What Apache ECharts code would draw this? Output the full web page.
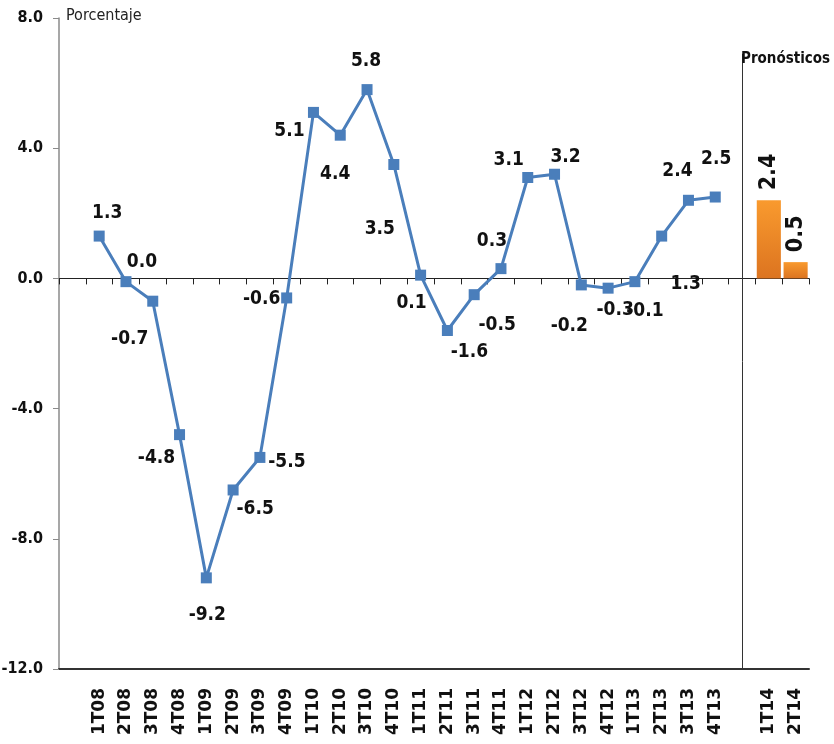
<!DOCTYPE html>
<html>
<head>
<meta charset="utf-8">
<script src="https://cdn.jsdelivr.net/npm/echarts@6/dist/echarts.min.js"></script>
<style>
html,body{margin:0;padding:0;background:#fff;}
#chart{width:834px;height:744px;}
</style>
</head>
<body>
<div id="chart"></div>
<script>
// ---- data ----
const lineCategories = ['1T08','2T08','3T08','4T08','1T09','2T09','3T09','4T09','1T10','2T10','3T10','4T10','1T11','2T11','3T11','4T11','1T12','2T12','3T12','4T12','1T13','2T13','3T13','4T13'];
const lineValues = [1.3,-0.1,-0.7,-4.8,-9.2,-6.5,-5.5,-0.6,5.1,4.4,5.8,3.5,0.1,-1.6,-0.5,0.3,3.1,3.2,-0.2,-0.3,-0.1,1.3,2.4,2.5];
const lineLabels = ['1.3','0.0','-0.7','-4.8','-9.2','-6.5','-5.5','-0.6','5.1','4.4','5.8','3.5','0.1','-1.6','-0.5','0.3','3.1','3.2','-0.2','-0.3','-0.1','1.3','2.4','2.5'];
const forecastCategories = ['1T14','2T14'];
const forecastValues = [2.4,0.5];
const yTicks = {min:-12, max:8, interval:4};

// label placement offsets (pixels, relative to marker centre)
const labelOffsets = [[8,-23],[16,-20],[-23,38],[-23,23],[1,37],[22,19],[27,5],[-25,1],[-24,19],[-5,39],[-1,-29],[-14,65],[-9,28],[22,22],[23,30],[-9,-28],[-19,-17],[11,-17],[-12,41],[7,22],[10,29],[24,48],[-11,-29],[1,-38]];

// ---- build ----
const categories = [''].concat(lineCategories, [''], forecastCategories);
const gapIndex = 1 + lineCategories.length;
const lineData = [null];
lineValues.forEach((v,i)=>{
  lineData.push({value:v, label:{offset:labelOffsets[i], formatter:lineLabels[i]}});
});
while(lineData.length < categories.length) lineData.push(null);
const barData = new Array(categories.length - forecastValues.length).fill(null).concat(forecastValues);

const numFont = '"DejaVu Sans Condensed",sans-serif';

const chart = echarts.init(document.getElementById('chart'));
chart.setOption({
  animation:false,
  backgroundColor:'#fff',
  title:[
    {text:'Porcentaje', left:66, top:8, padding:0, textStyle:{fontFamily:'"DejaVu Sans Condensed",sans-serif', fontWeight:'normal', fontSize:16, color:'#222'}},
    {text:'Pronósticos', left:741, top:52, padding:0, textStyle:{fontFamily:'"DejaVu Sans Condensed",sans-serif', fontWeight:'bold', fontSize:15, color:'#111'}}
  ],
  grid:{left:59, right:25, top:18, bottom:75, containLabel:false, outerBoundsMode:'none'},
  xAxis:[
    {type:'category', data:categories, boundaryGap:true,
     axisLine:{onZero:false, lineStyle:{color:'#333', width:2}},
     axisTick:{show:false},
     axisLabel:{rotate:90, interval:0, margin:19, fontFamily:'"DejaVu Sans",sans-serif', fontWeight:'bold', fontSize:17, color:'#111'}},
    {type:'category', data:categories, position:'bottom', boundaryGap:true,
     axisLine:{onZero:true, lineStyle:{color:'#222', width:1}},
     axisTick:{show:true, interval:0, length:6, lineStyle:{color:'#222'}},
     axisLabel:{show:false}}
  ],
  yAxis:{type:'value', min:yTicks.min, max:yTicks.max, interval:yTicks.interval,
    splitLine:{show:false},
    axisLine:{show:true, lineStyle:{color:'#8a8a8a', width:1.5}},
    axisTick:{show:true, length:6, lineStyle:{color:'#8a8a8a'}},
    axisLabel:{margin:16, fontFamily:numFont, fontWeight:'bold', fontSize:16, color:'#111', formatter:v=>v.toFixed(1)}
  },
  series:[
    {type:'line', data:lineData, xAxisIndex:0, connectNulls:false,
     symbol:'rect', symbolSize:11,
     itemStyle:{color:'#4a7ebb'},
     lineStyle:{color:'#4a7ebb', width:3},
     label:{show:true, position:'inside', fontFamily:numFont, fontWeight:'bold', fontSize:19, color:'#111'},
     z:3},
    {type:'bar', data:barData, xAxisIndex:0, barCategoryGap:'10%',
     itemStyle:{color:new echarts.graphic.LinearGradient(0,0,0,1,[{offset:0,color:'#f99a2e'},{offset:1,color:'#dc7420'}])},
     label:{show:true, position:'top', rotate:90, align:'left', verticalAlign:'middle', distance:10,
       fontFamily:numFont, fontWeight:'bold', fontSize:23, color:'#111', formatter:p=>p.value.toFixed(1)},
     markLine:{silent:true, symbol:'none', label:{show:false},
       lineStyle:{color:'#333', width:1, type:'solid'},
       data:[[{coord:[gapIndex, 6.9]},{coord:[gapIndex, yTicks.min]}]]}
    }
  ]
});
</script>
</body>
</html>
